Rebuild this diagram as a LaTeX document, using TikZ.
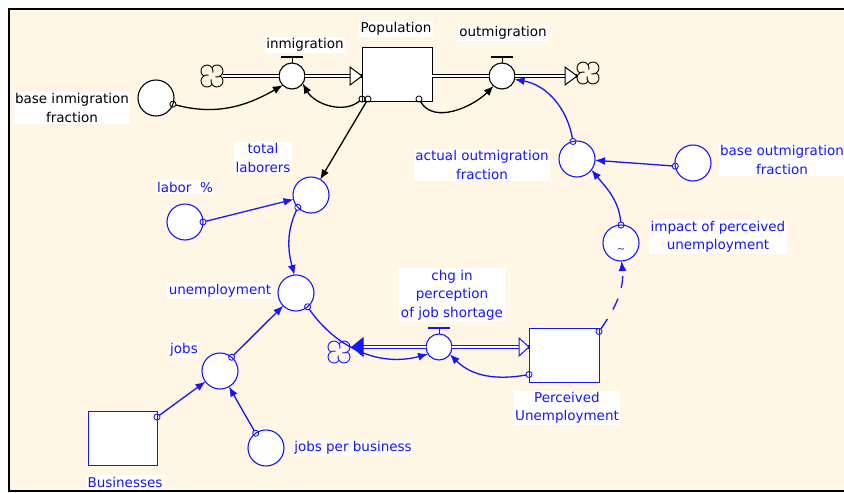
\documentclass[tikz,border=0pt]{standalone}
\usepackage{fontspec}
\setmainfont{DejaVu Sans}
\usetikzlibrary{arrows.meta}
\definecolor{sblue}{RGB}{22,22,250}
\definecolor{paper}{RGB}{255,246,229}
\begin{document}
\begin{tikzpicture}[x=1pt,y=1pt,line width=1.1pt,
    conv/.style={circle,draw,fill=white,minimum size=36pt,inner sep=0pt,outer sep=0pt},
    valve/.style={circle,draw,fill=white,minimum size=26pt,inner sep=0pt,outer sep=0pt},
    stock/.style={rectangle,draw,fill=white,minimum width=70pt,minimum height=54pt,inner sep=0pt,outer sep=0pt,line width=1pt},
    puff/.style={circle,minimum size=22pt,inner sep=0pt,outer sep=0pt},
    lab/.style={fill=white,inner sep=1.5pt,align=center,font=\fontsize{13.5}{18.5}\selectfont},
    link/.style={line width=1.3pt,shorten <=-3.5pt,{Circle[open,length=7pt,width=7pt,line width=0.9pt]}-{Latex[length=10pt,width=8pt]}},
    pipe/.style={double,double distance=2.6pt,line width=0.9pt},
    pipetip/.style={fill=white,line width=1pt,line join=miter}]
\useasboundingbox (0,0) rectangle (844,-493);
\clip (0,0) rectangle (844,-493);
\fill[white] (0,0) rectangle (844,-493);
\draw[fill=paper,line width=1.6pt] (9,-9) rectangle (880,-491);

\node[puff] (srcA) at (212,-76) {};
\node[valve] (inmig) at (292,-76) {};
\node[stock] (pop) at (397,-74) {};
\node[valve] (outmig) at (502,-76) {};
\node[puff] (sinkA) at (588,-73) {};
\node[conv] (bif) at (156,-98) {};
\node[lab] (inmigL) at (305,-45) {inmigration};
\node[lab] (popL) at (396,-29) {Population};
\node[lab] (outmigL) at (503,-33) {outmigration};
\node[lab] (bifL) at (72,-108) {base inmigration\\fraction};

\draw[pipe] (srcA.east |- inmig) -- (inmig.west);
\draw[pipe] (inmig.east) -- (inmig -| pop.west);
\draw[pipetip] (inmig -| pop.west) -- ++(-12,9) -- ++(0,-18) -- cycle;
\draw[pipe] (pop.east |- outmig) -- (outmig.west);
\draw[pipe] (outmig.east) -- (outmig -| sinkA.west);
\draw[pipetip] (outmig -| sinkA.west) -- ++(-12,9) -- ++(0,-18) -- cycle;

\draw[link] (bif.-20) to[out=-15,in=-150] (inmig.-135);
\draw[link] ([yshift=2pt]pop.south west) to[out=-140,in=-60] (inmig.-35);
\draw[link] ([xshift=22pt,yshift=2pt]pop.south) to[out=-60,in=-135] (outmig.-130);

\begin{scope}[sblue]
\node[conv] (totlab) at (311,-195) {};
\node[conv] (labpct) at (185,-222) {};
\node[conv] (unemp) at (296,-293) {};
\node[conv] (jobs) at (220,-371) {};
\node[stock,minimum width=69pt] (biz) at (122.5,-438) {};
\node[conv] (jpb) at (266,-448) {};
\node[puff] (srcB) at (339,-352) {};
\node[valve] (chg) at (439,-347) {};
\node[stock] (perc) at (564,-355.5) {};
\node[conv] (impact) at (621,-243) {};
\node[conv] (actual) at (577,-159) {};
\node[conv] (bof) at (693,-163) {};
\node[font=\fontsize{10}{10}\selectfont,inner sep=0pt] (impactT) at (621,-251) {\textasciitilde};

\node[lab] (totlabL) at (263,-158) {total\\laborers};
\node[lab] (labpctL) at (185,-187) {labor\ \ \%};
\node[lab] (unempL) at (220,-291) {unemployment};
\node[lab] (jobsL) at (184,-350) {jobs};
\node[lab] (bizL) at (125,-482) {Businesses};
\node[lab] (jpbL) at (353,-448) {jobs per business};
\node[lab] (chgL) at (452,-295) {chg in\\perception\\of job shortage};
\node[lab] (percL) at (567,-408) {Perceived\\Unemployment};
\node[lab] (impactL) at (718,-237) {impact of perceived\\unemployment};
\node[lab] (actualL) at (482,-165) {actual outmigration\\fraction};
\node[lab] (bofL) at (782,-160) {base outmigration\\fraction};

\draw[pipe] ([xshift=24pt]srcB.center |- chg) -- (chg.west);
\draw[pipetip,fill=sblue] ([xshift=13pt]srcB.center |- chg) -- ++(11,9) -- ++(0,-18) -- cycle;
\draw[pipe] (chg.east) -- (chg -| perc.west);
\draw[pipetip] (chg -| perc.west) -- ++(-10,9) -- ++(0,-18) -- cycle;

\draw[link] (labpct.east) -- (totlab);
\draw[link] (totlab.-137) to[out=-115,in=105] (unemp.95);
\draw[link] (jobs.50) -- (unemp);
\draw[link] ([yshift=-6pt]biz.north east) -- (jobs);
\draw[link] (jpb.125) -- (jobs);
\draw[link] (unemp.-50) to[out=-55,in=-165] (chg.-147);
\draw[link] ([yshift=8pt]perc.south west) to[out=-170,in=-45] (chg.-34);
\draw[link,dash pattern=on 12pt off 11pt] ([yshift=-3pt]perc.north east) to[out=55,in=-85] (impact.-88);
\draw[link] (impact.north) to[out=95,in=-50] (actual.-37);
\draw[link] (bof.190) -- (actual);
\draw[link] (actual.103) to[out=100,in=-10] (outmig.-15);
\end{scope}

\draw[link] ([xshift=6pt,yshift=2pt]pop.south west) -- (totlab);

\foreach \v/\c in {inmig/black,outmig/black,chg/sblue}{
  \draw[\c,line width=1.8pt] ([shift={(-11,6)}]\v.north) -- ++(22,0);
  \draw[\c,line width=0.8pt] ([yshift=6pt]\v.north) -- (\v.north);
}
\foreach \c/\k in {srcA/black,sinkA/black,srcB/sblue}{
  \draw[\k,line width=0.9pt,shift={(\c.center)}] (0,8.3)
    arc[start angle=146.6,end angle=-56.6,radius=6]
    arc[start angle=56.6,end angle=-146.6,radius=6]
    arc[start angle=-33.4,end angle=-236.6,radius=6]
    arc[start angle=-123.4,end angle=-326.6,radius=6] -- cycle;
  \foreach \a in {0,90,180,270}
    \draw[\k,line width=0.9pt,shift={(\c.center)},rotate=\a] (8.3,0) arc[start angle=-56.6,end angle=-105,radius=6];
}
\end{tikzpicture}
\end{document}
